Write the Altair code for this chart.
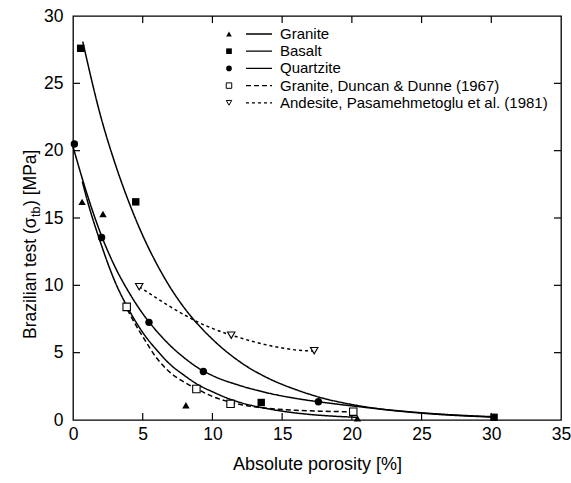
import altair as alt
import pandas as pd

# ---------------- data ----------------
names = ["Granite", "Basalt", "Quartzite",
         "Granite, Duncan & Dunne (1967)",
         "Andesite, Pasamehmetoglu et al. (1981)"]

# measured points
granite_x = [0.65, 2.15, 8.1, 20.4]
granite_y = [16.2, 15.3, 1.1, 0.12]
basalt_x = [0.55, 4.5, 13.5, 30.2]
basalt_y = [27.6, 16.2, 1.3, 0.2]
quartz_x = [0.1, 2.05, 5.45, 9.35, 17.6]
quartz_y = [20.5, 13.55, 7.25, 3.6, 1.35]
duncan_x = [3.85, 8.85, 11.3, 20.1]
duncan_y = [8.4, 2.3, 1.2, 0.62]
andes_x = [4.75, 11.35, 17.3]
andes_y = [9.9, 6.3, 5.15]

# fitted curves
granite_cx = [0.67, 1, 2, 3, 4, 5, 6, 7, 8, 9, 10, 11, 12, 14, 16, 18, 20.4]
granite_cy = [17.7, 16.4, 13.1, 10.3, 8.2, 6.5, 5.2, 4.1, 3.3, 2.6, 2.1, 1.65, 1.3, 0.83, 0.52, 0.33, 0.2]
basalt_cx = [0.7, 2, 3, 4, 5, 6, 7, 8, 10, 12, 14, 16, 18, 20, 22, 24, 26, 28, 30]
basalt_cy = [28.1, 22.5, 19.1, 16.2, 13.7, 11.6, 9.8, 8.3, 6.0, 4.3, 3.1, 2.25, 1.6, 1.15, 0.82, 0.6, 0.43, 0.31, 0.22]
quartz_cx = [0, 1, 2, 3, 4, 5, 6, 7, 8, 9, 10, 12, 14, 16, 18, 20, 22, 24, 26, 28, 30]
quartz_cy = [20.3, 16.8, 13.8, 11.4, 9.5, 7.9, 6.6, 5.5, 4.6, 3.85, 3.3, 2.55, 2.0, 1.6, 1.3, 1.05, 0.82, 0.62, 0.46, 0.34, 0.25]
duncan_cx = [3.9, 4.7, 5, 6, 7, 8, 9, 10, 11, 12, 13, 14, 16, 18, 20.1]
duncan_cy = [8.2, 6.7, 6.2, 4.6, 3.5, 2.8, 2.25, 1.75, 1.4, 1.15, 0.98, 0.86, 0.72, 0.65, 0.6]
andes_cx = [4.75, 6, 7, 8, 9, 10, 11.35, 12, 13, 14, 15, 16, 17.3]
andes_cy = [9.9, 9.05, 8.4, 7.8, 7.25, 6.8, 6.3, 6.1, 5.8, 5.55, 5.35, 5.2, 5.12]

x_ticks = [0, 5, 10, 15, 20, 25, 30, 35]
y_ticks = [0, 5, 10, 15, 20, 25, 30]
x_inner_ticks = [5, 10, 15, 20, 25, 30]
y_inner_ticks = [5, 10, 15, 20, 25]

# ---------------- build tables ----------------
pts = [(granite_x, granite_y), (basalt_x, basalt_y), (quartz_x, quartz_y),
       (duncan_x, duncan_y), (andes_x, andes_y)]
crv = [(granite_cx, granite_cy), (basalt_cx, basalt_cy), (quartz_cx, quartz_cy),
       (duncan_cx, duncan_cy), (andes_cx, andes_cy)]

prow, crow = [], []
for n, (xs_, ys_) in zip(names, pts):
    for a, b in zip(xs_, ys_):
        prow.append({"series": n, "x": a, "y": b})
for n, (xs_, ys_) in zip(names, crv):
    for k, (a, b) in enumerate(zip(xs_, ys_)):
        crow.append({"series": n, "x": a, "y": b, "k": k})
pdf = pd.DataFrame(prow)
cdf = pd.DataFrame(crow)
filled_df = pdf[pdf.series.isin(names[:3])]
open_df = pdf[pdf.series.isin(names[3:])]

FONT = "Liberation Sans"
W, H = 488, 404
LFS = 17.5

xs = alt.Scale(domain=[0, 35], nice=False, zero=False)
ys = alt.Scale(domain=[0, 30], nice=False, zero=False)
shape_scale = alt.Scale(domain=names,
                        range=["triangle-up", "square", "circle", "square", "triangle-down"])
dash_scale = alt.Scale(domain=names, range=[[1, 0], [1, 0], [1, 0], [5, 3], [3, 3]])


def X(f):
    return alt.X(f, scale=xs, axis=alt.Axis(
        values=x_ticks, title="Absolute porosity [%]", ticks=False, domain=False,
        grid=False, labelFontSize=LFS, labelFont=FONT, labelColor="black",
        labelPadding=5, labelFlush=False, titleFontSize=18, titleFont=FONT,
        titleFontWeight="normal", titleColor="black", titlePadding=13, format="d"))


def Y(f):
    return alt.Y(f, scale=ys, axis=alt.Axis(
        values=y_ticks, title=None, ticks=False, domain=False, grid=False,
        labelFontSize=LFS, labelFont=FONT, labelColor="black", labelPadding=10,
        labelFlush=False, format="d"))


curves = alt.Chart(cdf).mark_line(color="black", strokeWidth=1.5, interpolate="monotone").encode(
    x=X("x:Q"), y=Y("y:Q"), detail="series:N", order="k:Q",
    strokeDash=alt.StrokeDash("series:N", scale=dash_scale, legend=None))

filled = alt.Chart(filled_df).mark_point(filled=True, color="black", opacity=1, size=55).encode(
    x=X("x:Q"), y=Y("y:Q"),
    shape=alt.Shape("series:N", scale=shape_scale, legend=None))

opened = alt.Chart(open_df).mark_point(filled=False, color="black", fill="white", fillOpacity=1,
                                       opacity=1, size=55, strokeWidth=1.1).encode(
    x=X("x:Q"), y=Y("y:Q"),
    shape=alt.Shape("series:N", scale=shape_scale, legend=None))

xt_df = pd.DataFrame({"t": x_inner_ticks})
yt_df = pd.DataFrame({"t": y_inner_ticks})
tick_b = alt.Chart(xt_df).mark_rule(color="black", strokeWidth=1.2).encode(
    x=X("t:Q"), y=alt.value(H), y2=alt.value(H - 7))
tick_t = alt.Chart(xt_df).mark_rule(color="black", strokeWidth=1.2).encode(
    x=X("t:Q"), y=alt.value(0), y2=alt.value(7))
tick_l = alt.Chart(yt_df).mark_rule(color="black", strokeWidth=1.2).encode(
    y=Y("t:Q"), x=alt.value(0), x2=alt.value(7))
tick_r = alt.Chart(yt_df).mark_rule(color="black", strokeWidth=1.2).encode(
    y=Y("t:Q"), x=alt.value(W), x2=alt.value(W - 7))

main = alt.layer(curves, tick_b, tick_t, tick_l, tick_r, filled, opened)

# ---------------- legend (manual) ----------------
leg_df = pd.DataFrame({"label": names, "i": list(range(len(names)))})
leg = alt.Chart(leg_df).transform_calculate(ly="18 + 17.2 * datum.i")
LY = alt.Y("ly:Q", scale=None, axis=None)
leg_fill = leg.transform_filter("datum.i < 3").mark_point(
    filled=True, color="black", opacity=1, size=32).encode(
    x=alt.value(156), y=LY, shape=alt.Shape("label:N", scale=shape_scale, legend=None))
leg_open = leg.transform_filter("datum.i >= 3").mark_point(
    filled=False, color="black", opacity=1, size=30, strokeWidth=1).encode(
    x=alt.value(156), y=LY, shape=alt.Shape("label:N", scale=shape_scale, legend=None))
leg_line = leg.mark_rule(color="black", strokeWidth=1.3).encode(
    x=alt.value(173), x2=alt.value(199), y=LY,
    strokeDash=alt.StrokeDash("label:N", scale=dash_scale, legend=None))
leg_text = leg.mark_text(align="left", baseline="middle", font=FONT, fontSize=15,
                         color="black").encode(x=alt.value(207), y=LY, text="label:N")

# ---------------- y-axis title with subscript ----------------
def ytext(s, yv, xv, size):
    return alt.Chart(pd.DataFrame({"s": [s]})).mark_text(
        angle=270, align="left", baseline="alphabetic", font=FONT, fontSize=size,
        color="black").encode(x=alt.value(xv), y=alt.value(yv), text="s:N")

yt1 = ytext("Brazilian test (σ", 323, -37, 17.5)
yt2 = ytext("tb", 201, -33, 12.5)
yt3 = ytext(") [MPa]", 190, -37, 17.5)

overlay = alt.layer(leg_line, leg_fill, leg_open, leg_text, yt1, yt2, yt3)

chart = alt.layer(main, overlay).resolve_scale(
    x="independent", y="independent", shape="independent", strokeDash="independent"
).properties(
    width=W, height=H,
    autosize=alt.AutoSizeParams(type="none"),
    padding={"left": 73, "top": 16, "right": 10, "bottom": 63},
    background="white",
).configure_view(stroke="black", strokeWidth=1.3)

chart.save("out.html", embed_options={"renderer": "svg", "actions": False})
